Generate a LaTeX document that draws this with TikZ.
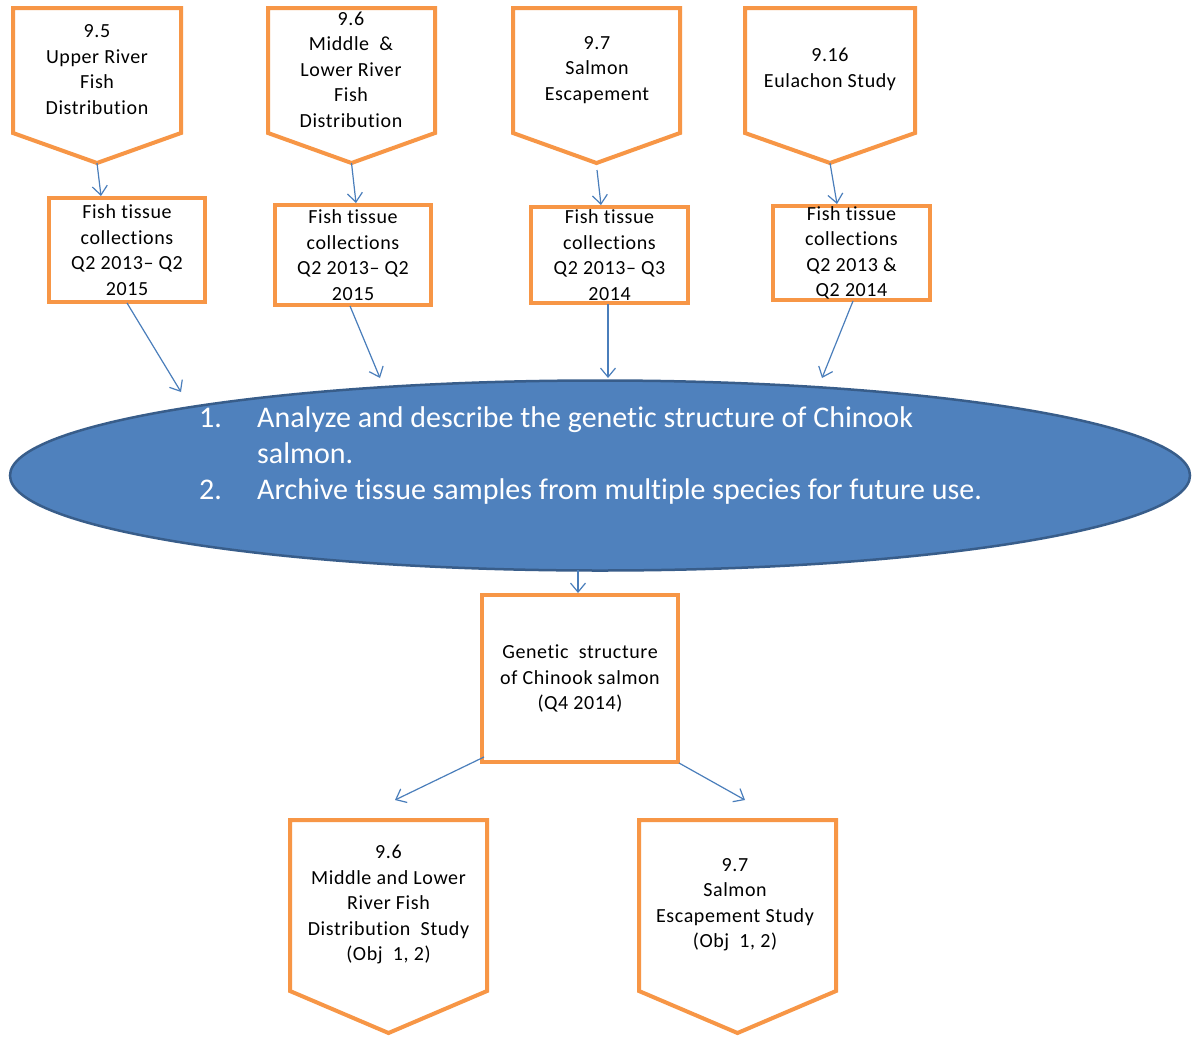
\documentclass[tikz,border=0pt]{standalone}
\usepackage{fontspec}
\setmainfont[Ligatures={NoCommon}]{Carlito}
\newfontfamily\boxfont[LetterSpace=3,Ligatures={NoCommon}]{Carlito}
\usetikzlibrary{arrows.meta,shapes.geometric}
\definecolor{orng}{HTML}{F79646}
\definecolor{blu}{HTML}{4A7EBB}
\definecolor{ellfill}{HTML}{4F81BD}
\definecolor{elldraw}{HTML}{385D8A}
\newcommand\mychev[6]{% name, xl, xr, ytop, yside, ytip
  \draw[obox] (#2,#4) -- (#3,#4) -- (#3,#5) -- ({(#2+#3)/2},#6) -- (#2,#5) -- cycle;
  \coordinate (#1) at ({(#2+#3)/2},#6);}
\begin{document}
\begin{tikzpicture}[x=1pt,y=-1pt,
  obox/.style={draw=orng,line width=4pt,line join=miter,fill=white},
  rbox/.style={obox,rectangle,inner sep=0pt,align=center,font=\boxfont\fontsize{20pt}{25.5pt}\selectfont},
  tx/.style={inner sep=0pt,align=center,font=\boxfont\fontsize{20pt}{25.5pt}\selectfont},
  conn/.style={draw=blu,line width=1.2pt,-{Straight Barb[length=9pt,width=15pt,line width=1.2pt]}}]
\useasboundingbox (0,0) rectangle (1193,1036);
\fill[white] (0,0) rectangle (1193,1036);

% top chevrons
\mychev{p1tip}{13}{181}{8}{133}{163}
\mychev{p2tip}{268}{435}{8}{133}{163}
\mychev{p3tip}{513}{680}{8}{133}{163}
\mychev{p4tip}{745}{915}{8}{133}{163}
\node[tx] (p1) at (97,69.5) {9.5\\Upper River\\Fish\\Distribution};
\node[tx] (p2) at (351,69.5) {9.6\\Middle~~\&\\Lower River\\Fish\\Distribution};
\node[tx] (p3) at (597,70) {9.7\\Salmon\\Escapement};
\node[tx] (p4) at (830,69.5) {9.16\\Eulachon Study};

% rectangles
\node[rbox,minimum width=156pt,minimum height=104pt] (r1) at (127,250) {Fish tissue\\collections\\Q2 2013– Q2\\2015};
\node[rbox,minimum width=156pt,minimum height=100pt] (r2) at (353,255) {Fish tissue\\collections\\Q2 2013– Q2\\2015};
\node[rbox,minimum width=157pt,minimum height=96pt] (r3) at (609.5,255) {Fish tissue\\collections\\Q2 2013– Q3\\2014};
\node[rbox,minimum width=157pt,minimum height=94pt] (r4) at (851.5,253) {Fish tissue\\collections\\Q2 2013 \&\\Q2 2014};

% ellipse
\node[ellipse,draw=elldraw,fill=ellfill,line width=2.5pt,minimum width=1180pt,minimum height=190pt,inner sep=0pt] (ell) at (600,475.5) {};
\node[anchor=west,inner sep=0pt,text=white,font=\fontsize{30pt}{36pt}\selectfont] (elltext) at (199,456)
  {\begin{tabular}{@{}p{58pt}@{}l@{}}1. & Analyze and describe the genetic structure of Chinook\\ & salmon.\\ 2. & Archive tissue samples from multiple species for future use.\end{tabular}};

% center box
\node[rbox,minimum width=196pt,minimum height=167pt] (gs) at (580,678.5) {Genetic~~structure\\of Chinook salmon\\(Q4 2014)};

% bottom chevrons
\mychev{b1tip}{290}{487}{820}{991}{1033}
\mychev{b2tip}{639}{836}{820}{991}{1033}
\node[tx] (b1) at (388.5,904.5) {9.6\\Middle and Lower\\River Fish\\Distribution~~Study\\(Obj~~1, 2)};
\node[tx] (b2) at (735,904.5) {9.7\\Salmon\\Escapement Study\\(Obj~~1, 2)};

% target coordinates
\coordinate (t1) at (101,196);
\coordinate (t2) at (356,203);
\coordinate (t3) at (601,205);
\coordinate (t4) at (837,204);
\coordinate (s3) at (597,170);
\coordinate (e1) at (181,392);
\coordinate (e2) at (380,378);
\coordinate (e3) at (608,378);
\coordinate (e4) at (822,378);
\coordinate (u1) at (127,303);
\coordinate (u2) at (350,306);
\coordinate (u3) at (608,304);
\coordinate (u4) at (853,301);
\coordinate (eb) at (578,570);
\coordinate (gt) at (578,593);
\coordinate (gl) at (484,757);
\coordinate (gr) at (679,763);
\coordinate (bl) at (395,800);
\coordinate (br) at (745,800);

\draw[conn] (p1tip) -- (t1);
\draw[conn] (p2tip) -- (t2);
\draw[conn] (s3) -- (t3);
\draw[conn] (p4tip) -- (t4);
\draw[conn] (u1) -- (e1);
\draw[conn] (u2) -- (e2);
\draw[conn] (u3) -- (e3);
\draw[conn] (u4) -- (e4);
\draw[conn] (eb) -- (gt);
\draw[conn] (gl) -- (bl);
\draw[conn] (gr) -- (br);
\end{tikzpicture}
\end{document}
